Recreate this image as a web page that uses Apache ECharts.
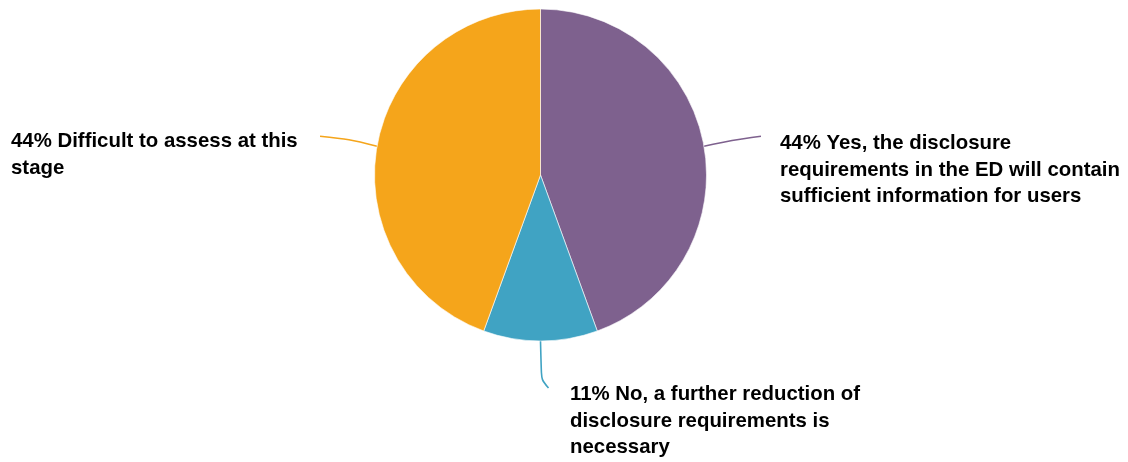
<!DOCTYPE html>
<html>
<head>
<meta charset="utf-8">
<script src="https://cdn.jsdelivr.net/npm/echarts@6/dist/echarts.min.js"></script>
<style>
  html, body { margin: 0; padding: 0; background: #ffffff; }
  #chart { width: 1128px; height: 462px; }
</style>
</head>
<body>
<div id="chart"></div>
<script>
// ---- data ----
const categories = [
  'Yes, the disclosure\nrequirements in the ED will contain\nsufficient information for users',
  'No, a further reduction of\ndisclosure requirements is\nnecessary',
  'Difficult to assess at this\nstage'
];
const values = [44, 11, 44];
const colors = ['#7e618e', '#40a3c3', '#f5a51b'];

// ---- label layout (positions only) ----
const labelPlacement = [
  { x: 780, y: 130, mid: [28, -6], end: [57, -10] },
  { x: 570, y: 381, mid: [1, 39], end: [8, 47] },
  { x: 11,  y: 128, mid: [-28, -7], end: [-57, -10] }
];

const chart = echarts.init(document.getElementById('chart'), null, { renderer: 'canvas' });

const option = {
  animation: false,
  backgroundColor: '#ffffff',
  series: [{
    type: 'pie',
    center: [540.5, 175],
    radius: 166,
    startAngle: 90,
    clockwise: true,
    avoidLabelOverlap: false,
    data: categories.map((c, i) => ({
      name: c,
      value: values[i],
      itemStyle: { color: colors[i] },
      labelLine: { lineStyle: { color: colors[i] } }
    })),
    itemStyle: { borderColor: '#ffffff', borderWidth: 0.6 },
    label: {
      show: true,
      position: 'outside',
      formatter: p => Math.round(p.percent) + '% ' + p.name,
      fontFamily: '"Liberation Sans", Arial, Helvetica, sans-serif',
      fontWeight: 'bold',
      fontSize: 20.4,
      lineHeight: 26.7,
      color: '#000000',
      align: 'left'
    },
    labelLine: {
      show: true,
      length: 20,
      length2: 20,
      smooth: 0.3,
      lineStyle: { width: 1.6 }
    },
    labelLayout: function (p) {
      const cfg = labelPlacement[p.dataIndex];
      const a = p.labelLinePoints[0];
      return {
        x: cfg.x,
        y: cfg.y,
        align: 'left',
        verticalAlign: 'top',
        labelLinePoints: [
          [a[0], a[1]],
          [a[0] + cfg.mid[0], a[1] + cfg.mid[1]],
          [a[0] + cfg.end[0], a[1] + cfg.end[1]]
        ]
      };
    },
    emphasis: { disabled: true }
  }]
};

chart.setOption(option);
</script>
</body>
</html>
